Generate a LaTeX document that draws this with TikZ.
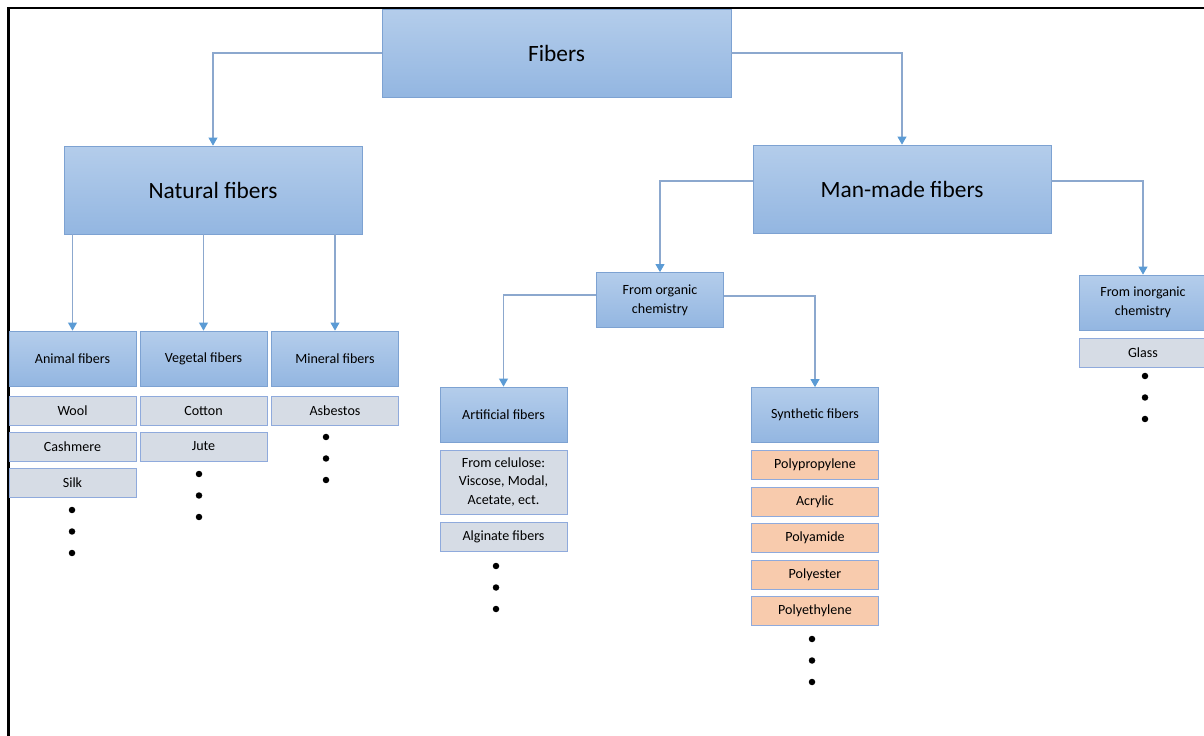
\documentclass[tikz,border=0pt]{standalone}
\usepackage{fontspec}
\setmainfont{Carlito}
\usetikzlibrary{arrows.meta}

\definecolor{boxtop}{HTML}{B4CDEB}
\definecolor{boxbot}{HTML}{93B6E1}
\definecolor{boxline}{HTML}{7DA2D2}
\definecolor{itemfill}{HTML}{D6DCE5}
\definecolor{itemline}{HTML}{8FAADC}
\definecolor{synfill}{HTML}{F8CBAD}
\definecolor{connline}{HTML}{8CA8CE}
\definecolor{tipcol}{HTML}{5B9BD5}

\begin{document}
\begin{tikzpicture}[x=0.02cm, y=-0.02cm,
    every node/.style={inner sep=0pt, align=center},
    bigbox/.style={draw=boxline, top color=boxtop, bottom color=boxbot,
      minimum width=5.96cm, minimum height=1.76cm, font=\fontsize{13.3}{16}\selectfont},
    catbox/.style={draw=boxline, top color=boxtop, bottom color=boxbot,
      minimum width=2.54cm, minimum height=1.1cm, font=\fontsize{8}{10.8}\selectfont},
    itembox/.style={draw=itemline, fill=itemfill,
      minimum width=2.54cm, minimum height=0.58cm, font=\fontsize{8}{10.8}\selectfont},
    synbox/.style={itembox, fill=synfill},
    conn/.style={draw=connline, line width=0.6pt,
      -{Triangle[width=5pt, length=4.5pt, fill=tipcol, color=tipcol]}}]

      \useasboundingbox (0,0) rectangle (1204,736);
      % frame
      \draw[line width=1.2pt] (8.5,745) -- (8.5,8) -- (1215,8);

      % top levels
      \node[bigbox, minimum width=6.98cm] (fibers) at (556.5, 53) {Fibers};
      \node[bigbox] (natural) at (213, 190) {Natural fibers};
      \node[bigbox] (manmade) at (902, 189) {Man-made fibers};

      % natural fibers
      \node[catbox] (animal) at (72.5, 358.5) {Animal fibers};
      \node[catbox] (vegetal) at (203.5, 358.5) {Vegetal fibers};
      \node[catbox] (mineral) at (335, 358.5) {Mineral fibers};
      \node[itembox] (wool) at (72.5, 410.5) {Wool};
      \node[itembox] (cashmere) at (72.5, 446.5) {Cashmere};
      \node[itembox] (silk) at (72.5, 482.5) {Silk};
      \node[itembox] (cotton) at (203.5, 410.5) {Cotton};
      \node[itembox] (jute) at (203.5, 446.5) {Jute};
      \node[itembox] (asbestos) at (335, 410.5) {Asbestos};

      % man-made fibers
      \node[catbox] (organic) at (660, 300) {From organic\\chemistry};
      \node[catbox] (inorganic) at (1143, 302.5) {From inorganic\\chemistry};
      \node[catbox] (artificial) at (503.5, 414.5) {Artificial fibers};
      \node[catbox] (synthetic) at (815, 415) {Synthetic fibers};
      \node[itembox, minimum height=1.28cm] (celulose) at (503.5, 482) {From celulose:\\Viscose, Modal,\\Acetate, ect.};
      \node[itembox] (alginate) at (503.5, 537) {Alginate fibers};
      \node[synbox] (polyprop) at (815, 464.5) {Polypropylene};
      \node[synbox] (acrylic) at (815, 501.5) {Acrylic};
      \node[synbox] (polyamide) at (815, 537.5) {Polyamide};
      \node[synbox] (polyester) at (815, 574.5) {Polyester};
      \node[synbox] (polyeth) at (815, 611) {Polyethylene};
      \node[itembox] (glass) at (1143, 352.5) {Glass};

      % connectors
      \draw[conn] (fibers.west) -| (natural.north);
      \draw[conn] (fibers.east) -| (manmade.north);
      \draw[conn] (natural.south -| animal.north) -- (animal.north);
      \draw[conn] (natural.south -| vegetal.north) -- (vegetal.north);
      \draw[conn] (natural.south -| mineral.north) -- (mineral.north);
      \draw[conn] ([yshift=0.16cm]manmade.west) -| (organic.north);
      \draw[conn] ([yshift=0.16cm]manmade.east) -| (inorganic.north);
      \draw[conn] ([yshift=0.1cm]organic.west) -| (artificial.north);
      \draw[conn] ([yshift=0.08cm]organic.east) -| (synthetic.north);

      % dots
      \foreach \x/\y in {72/510, 199/474, 326/437, 496/566, 812/639, 1145/376}
        \foreach \k in {0,1,2}
          \fill (\x, \y+21.5*\k) circle (0.065cm);
\end{tikzpicture}
\end{document}
